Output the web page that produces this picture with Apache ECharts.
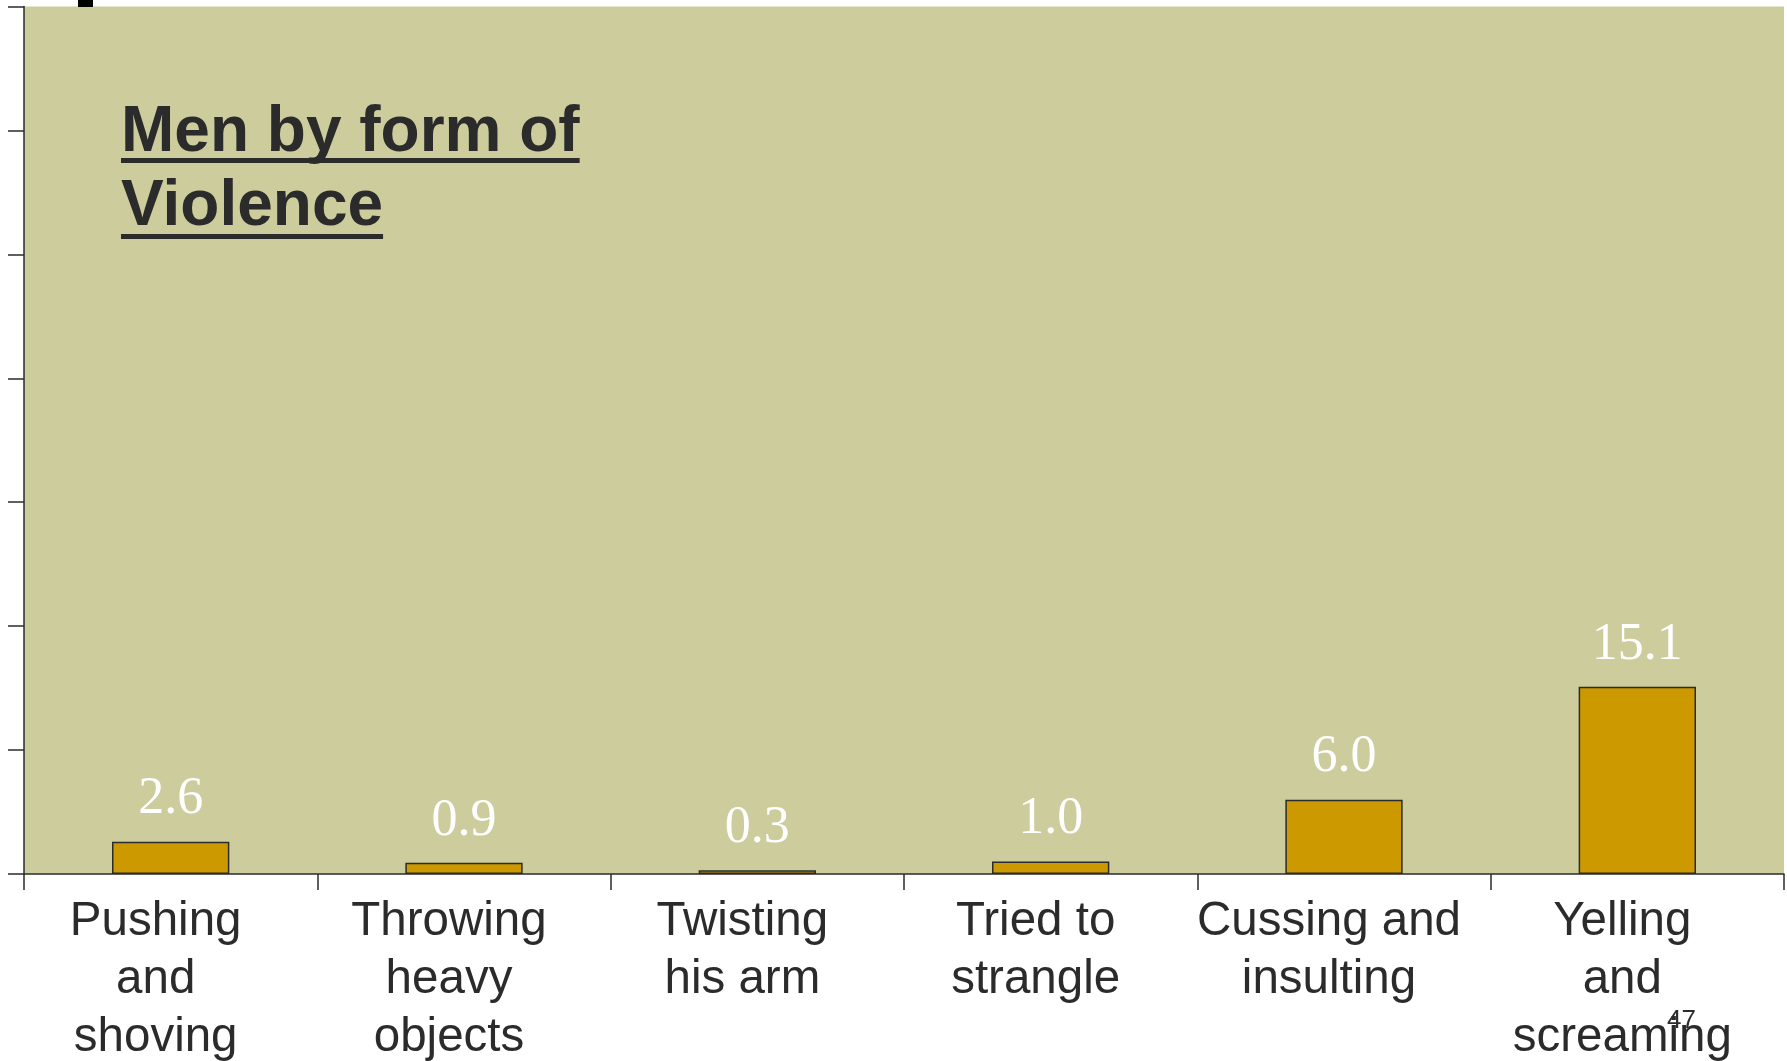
<!DOCTYPE html>
<html>
<head>
<meta charset="utf-8">
<script src="https://cdn.jsdelivr.net/npm/echarts@6/dist/echarts.min.js"></script>
<style>
html,body{margin:0;padding:0;background:#fff;}
#chart{width:1787px;height:1061px;}
</style>
</head>
<body>
<div id="chart"></div>
<script>
var categories = ["Pushing\nand\nshoving", "Throwing\nheavy\nobjects", "Twisting\nhis arm", "Tried to\nstrangle", "Cussing and\ninsulting", "Yelling\nand\nscreaming"];
var values = [2.6, 0.9, 0.3, 1.0, 6.0, 15.1];
var valueLabels = ["2.6", "0.9", "0.3", "1.0", "6.0", "15.1"];
var titleLines = ["Men by form of", "Violence"];
var pageNumber = "47";

var chart = echarts.init(document.getElementById('chart'), null, {renderer: 'canvas'});

var titleFont = 'bold 64px "Liberation Sans", Arial, sans-serif';
var cvs = document.createElement('canvas').getContext('2d');
cvs.font = titleFont;
var titleGraphics = [];
var titleX = 121;
var textTops = [101, 175];
var underlineTops = [158, 234];
titleLines.forEach(function (t, i) {
  var w = cvs.measureText(t).width;
  titleGraphics.push({
    type: 'text', left: titleX, top: textTops[i], z: 10,
    style: {text: t, font: titleFont, fill: '#2b2b2b'}
  });
  titleGraphics.push({
    type: 'rect', left: titleX, top: underlineTops[i], z: 10,
    shape: {width: w, height: 5},
    style: {fill: '#2b2b2b'}
  });
});
titleGraphics.push({
  type: 'rect', left: 78, top: 0, shape: {width: 15, height: 7}, style: {fill: '#000'}
});
titleGraphics.push({
  type: 'text', left: 1667, top: 1008, z: 10,
  style: {text: pageNumber, font: '26px "Liberation Sans", Arial, sans-serif', fill: '#2b2b2b'}
});

chart.setOption({
  backgroundColor: '#ffffff',
  animation: false,
  grid: {
    left: 24, right: 3, top: 6.5, bottom: 187,
    containLabel: false, outerBoundsMode: 'none',
    show: true, backgroundColor: '#cccc9c', borderWidth: 0
  },
  xAxis: {
    type: 'category',
    data: categories,
    axisLine: {show: true, lineStyle: {color: '#2b2b2b', width: 1.5}},
    axisTick: {show: true, alignWithLabel: false, length: 16, lineStyle: {color: '#2b2b2b', width: 1.5}},
    axisLabel: {
      interval: 0, margin: 19,
      color: '#2b2b2b', fontSize: 47.5, lineHeight: 58,
      fontFamily: '"Liberation Sans", Arial, sans-serif',
      padding: [0, 30, 0, 0]
    },
    splitLine: {show: false}
  },
  yAxis: {
    type: 'value', min: 0, max: 70, interval: 10,
    axisLine: {show: true, lineStyle: {color: '#2b2b2b', width: 1.5}},
    axisTick: {show: true, inside: false, length: 16, lineStyle: {color: '#2b2b2b', width: 1.5}},
    axisLabel: {show: false},
    splitLine: {show: false}
  },
  series: [{
    type: 'bar',
    data: values,
    barWidth: '40%',
    itemStyle: {color: '#cc9900', borderColor: '#2b2b2b', borderWidth: 1.5},
    label: {
      show: true, position: 'top', distance: 16,
      color: '#ffffff', fontSize: 52,
      fontFamily: '"Liberation Serif", "Times New Roman", serif',
      formatter: function (p) { return valueLabels[p.dataIndex]; }
    }
  }],
  graphic: titleGraphics
});
</script>
</body>
</html>
